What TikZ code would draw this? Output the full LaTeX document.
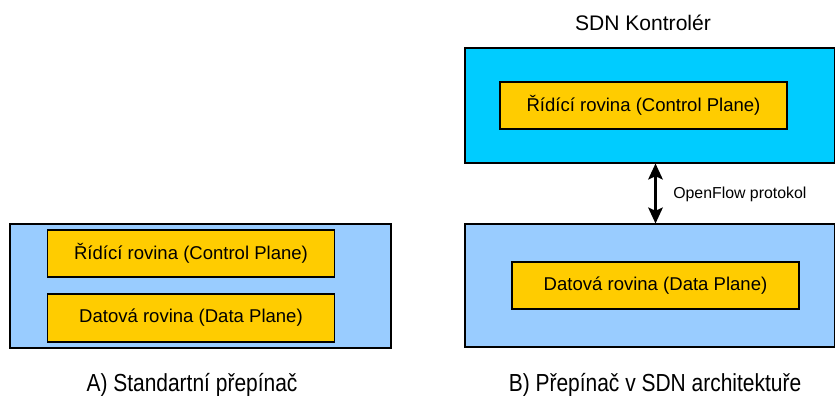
\documentclass[tikz,border=0pt]{standalone}
\usepackage{fontspec}
\setmainfont{Liberation Sans}
\newfontfamily\narrowfont[FakeStretch=0.85]{Liberation Sans}
\usetikzlibrary{arrows.meta}
\definecolor{lightblue}{HTML}{99CCFF}
\definecolor{cyanbox}{HTML}{00CCFF}
\definecolor{yellowbox}{HTML}{FFCC00}
\tikzset{
  outerbox/.style={draw=black, line width=0.8pt, inner sep=0pt},
  planebox/.style={draw=black, line width=0.8pt, fill=yellowbox, inner sep=0pt,
    minimum width={287*0.75pt}, minimum height={47*0.75pt}, font=\fontsize{13.9pt}{16pt}\selectfont},
  caption/.style={font=\narrowfont\fontsize{18.5pt}{20pt}\selectfont, inner sep=0pt},
  biarrow/.style={draw=black, line width=1.6pt, {Stealth[length=12pt,width=11pt,inset=2.5pt]}-{Stealth[length=12pt,width=11pt,inset=2.5pt]}},
}
\begin{document}
\begin{tikzpicture}[x=0.75pt,y=-0.75pt]
\useasboundingbox (0,0) rectangle (835,396);
% left
\node[outerbox, fill=lightblue, minimum width={381*0.75pt}, minimum height={124*0.75pt}] (lout) at (200.5,286) {};
\node[planebox] (lctrl) at (191,253.5) {Řídící rovina (Control Plane)};
\node[planebox, minimum height={48*0.75pt}] (ldata) at (191,318) {Datová rovina (Data Plane)};
\node[caption] (lcap) at (192,385) {A) Standartní přepínač};
% right
\node[font=\fontsize{15.8pt}{18pt}\selectfont, inner sep=0pt] (sdn) at (643,23) {SDN Kontrolér};
\node[outerbox, fill=cyanbox, minimum width={369.5*0.75pt}, minimum height={115*0.75pt}] (rtop) at (649.75,105.5) {};
\node[planebox] (rctrl) at (643.5,105.5) {Řídící rovina (Control Plane)};
\node[outerbox, fill=lightblue, minimum width={369.5*0.75pt}, minimum height={123*0.75pt}] (rbot) at (649.75,285.5) {};
\node[planebox] (rdata) at (655.5,285.5) {Datová rovina (Data Plane)};
\draw[biarrow] (rtop.south -| rdata.north) -- (rbot.north -| rdata.north);
\node[anchor=west, inner sep=0pt, font=\fontsize{11.9pt}{14pt}\selectfont] (of) at (673,194) {OpenFlow protokol};
\node[caption] (rcap) at (655,385) {B) Přepínač v SDN architektuře};
\end{tikzpicture}
\end{document}
